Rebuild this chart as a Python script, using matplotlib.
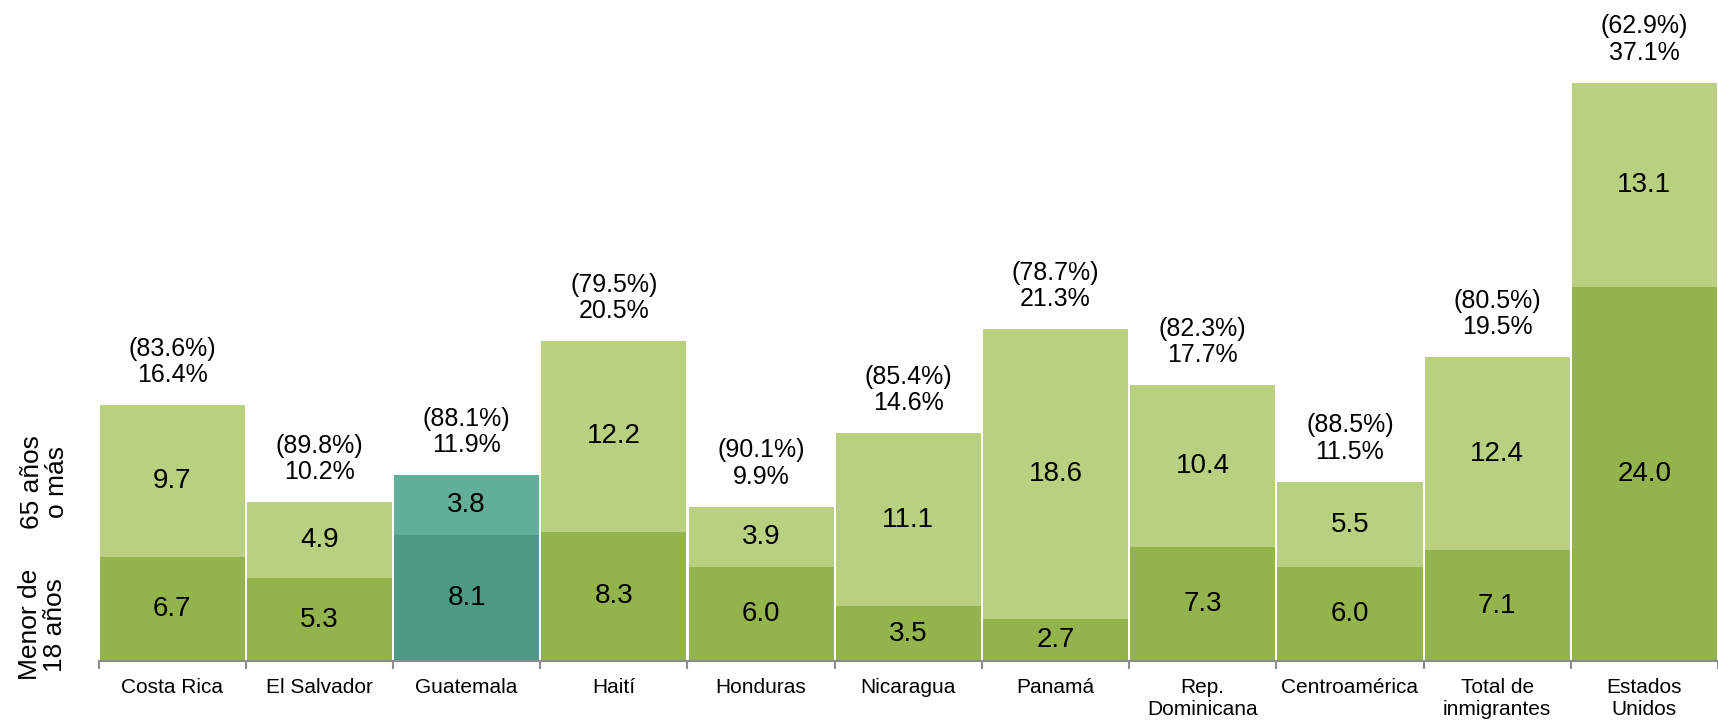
import matplotlib.pyplot as plt
import numpy as np

plt.rcParams['font.family'] = ['Liberation Sans', 'DejaVu Sans']

categorias = ["Costa Rica", "El Salvador", "Guatemala", "Haití", "Honduras",
              "Nicaragua", "Panamá", "Rep.\nDominicana", "Centroamérica",
              "Total de\ninmigrantes", "Estados\nUnidos"]
menor_18 = [6.7, 5.3, 8.1, 8.3, 6.0, 3.5, 2.7, 7.3, 6.0, 7.1, 24.0]
mayor_65 = [9.7, 4.9, 3.8, 12.2, 3.9, 11.1, 18.6, 10.4, 5.5, 12.4, 13.1]
dependencia = [16.4, 10.2, 11.9, 20.5, 9.9, 14.6, 21.3, 17.7, 11.5, 19.5, 37.1]
activos = [83.6, 89.8, 88.1, 79.5, 90.1, 85.4, 78.7, 82.3, 88.5, 80.5, 62.9]

# colores: Guatemala resaltada
c_oscuro = ["#93B44D"] * len(categorias)
c_claro = ["#B8D07F"] * len(categorias)
c_oscuro[2] = "#4E9A87"
c_claro[2] = "#61AF9A"

fig = plt.figure(figsize=(17.18, 7.23), dpi=100)
ax = fig.add_axes([0.0574, 0.0858, 0.9426, 0.9142])

x = np.arange(len(categorias))
ancho = 0.986
ax.bar(x, menor_18, width=ancho, color=c_oscuro, linewidth=0)
ax.bar(x, mayor_65, width=ancho, bottom=menor_18, color=c_claro, linewidth=0)

for i in range(len(categorias)):
    ax.text(x[i], menor_18[i] / 2, f"{menor_18[i]:.1f}", ha="center", va="center", fontsize=20)
    ax.text(x[i], menor_18[i] + mayor_65[i] / 2, f"{mayor_65[i]:.1f}", ha="center", va="center", fontsize=20)
    ax.annotate(f"({activos[i]:.1f}%)\n{dependencia[i]:.1f}%", (x[i], dependencia[i]),
                xytext=(0, 13), textcoords="offset points", ha="center", va="bottom",
                fontsize=18, linespacing=1.12)

ax.set_xlim(-0.5, len(categorias) - 0.5)
ax.set_ylim(0, 42.4)

for s in ["top", "right", "left"]:
    ax.spines[s].set_visible(False)
ax.spines["bottom"].set_color("#8C8C8C")
ax.spines["bottom"].set_linewidth(1.5)
ax.set_yticks([])

ax.set_xticks(x)
ax.set_xticklabels(categorias, fontsize=15, linespacing=1.2)
ax.tick_params(axis="x", which="major", length=0, pad=12)
ax.set_xticks(np.arange(len(categorias) + 1) - 0.5, minor=True)
ax.tick_params(axis="x", which="minor", length=6, width=1.5, color="#8C8C8C")

fig.text(0.025, 0.136, "Menor de\n18 años", rotation=90, ha="center", va="center", fontsize=19, linespacing=1.05)
fig.text(0.026, 0.333, "65 años\no más", rotation=90, ha="center", va="center", fontsize=19, linespacing=1.05)

fig.savefig("out.png", dpi=100)
